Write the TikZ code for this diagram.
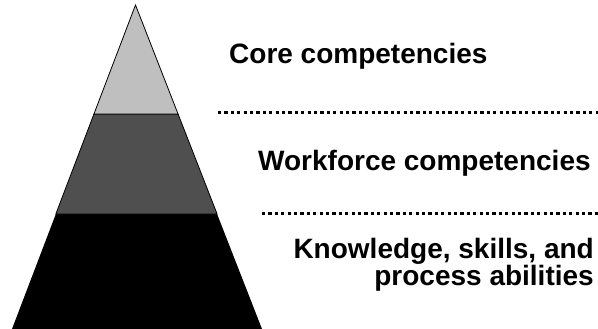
\documentclass[tikz,border=0pt]{standalone}
\usepackage{fontspec}
\setmainfont{Liberation Sans}
\usetikzlibrary{calc,positioning}
\definecolor{lightgrey}{gray}{0.75}
\definecolor{darkgrey}{gray}{0.31}

\begin{document}
\begin{tikzpicture}[x=1pt,y=-1pt]

\tikzset{layer/.style={draw=black,line width=0.8pt,line join=miter},
label/.style={font=\fontsize{28}{27}\selectfont\bfseries,inner sep=0pt},
divider/.style={line width=3pt,dash pattern=on 3.2pt off 3.2pt}}

\useasboundingbox (0,0) rectangle (598,329);

% Pyramid corners
\coordinate (apex) at (135.5,5);
\coordinate (bl) at (12,329);
\coordinate (br) at (262,329);
\coordinate (l1) at ($(apex)!0.3364!(bl)$); \coordinate (r1) at ($(apex)!0.3364!(br)$);
\coordinate (l2) at ($(apex)!0.6451!(bl)$); \coordinate (r2) at ($(apex)!0.6451!(br)$);

% Layers
\fill[black] (l2) -- (r2) -- (br) -- (bl) -- cycle;
\draw[layer,fill=darkgrey] (l1) -- (r1) -- (r2) -- (l2) -- cycle;
\draw[layer,fill=lightgrey] (apex) -- (r1) -- (l1) -- cycle;

% Labels
\node[label,anchor=base west] (core) at (229,64) {Core competencies};
\node[label,anchor=base west] (work) at (258,171) {Workforce competencies};
\node[label,anchor=north east,align=right] (know) at (594,238) {Knowledge, skills, and\\process abilities};

% Dotted dividers
\coordinate (d1s) at (218,113); \coordinate (d1e) at (598,113);
\coordinate (d2s) at (262,213); \coordinate (d2e) at (598,213);
\draw[divider] (d1s) -- (d1e);
\draw[divider] (d2s) -- (d2e);

\end{tikzpicture}
\end{document}
